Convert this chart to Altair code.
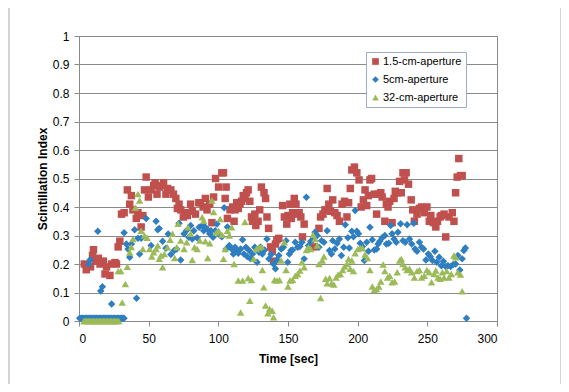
import altair as alt
import pandas as pd

names = ["1.5-cm-aperture", "5cm-aperture", "32-cm-aperture"]
colors = ["#C0504D", "#2F7EC0", "#9BBB59"]
shapes = ["square", "diamond", "triangle-up"]

t_15 = [3.8, 5.2, 8.3, 9.7, 10.4, 11.6, 13.9, 15.1, 17.5, 18.7, 19.8, 22.2, 23.4, 25.8, 26.9, 28.1, 29.3,
        30.5, 32.4, 34.7, 36.4, 37.6, 38.7, 41.1, 42.3, 44.6, 45.8, 47.0, 48.2, 49.8, 51.7, 53.6, 54.6,
        56.0, 57.6, 59.3, 60.7, 62.4, 63.5, 65.9, 67.8, 69.5, 70.6, 71.8, 73.0, 74.9, 76.5, 77.7, 80.1,
        81.3, 83.6, 86.0, 87.2, 89.1, 90.7, 91.9, 93.8, 95.4, 96.6, 98.0, 100.2, 102.5, 103.7, 105.6,
        104.9, 106.5, 108.4, 110.3, 111.3, 112.0, 113.2, 114.3, 115.5, 116.7, 117.9, 119.1, 120.2, 121.4,
        122.6, 123.8, 124.5, 126.2, 126.9, 128.5, 129.7, 130.9, 132.8, 133.9, 134.9, 136.1, 137.5, 138.7,
        139.6, 141.0, 142.0, 143.4, 146.2, 147.4, 149.1, 150.0, 151.4, 152.4, 153.3, 154.5, 155.7, 156.9,
        158.0, 159.2, 160.4, 161.6, 168.7, 172.2, 173.4, 175.1, 176.5, 178.1, 179.3, 180.5, 182.1, 183.6,
        185.2, 186.9, 188.8, 190.6, 192.3, 193.5, 194.7, 195.8, 197.7, 199.4, 201.0, 202.5, 204.1, 205.3,
        206.5, 207.7, 208.8, 210.0, 211.9, 213.6, 214.7, 216.6, 217.6, 219.5, 220.6, 221.8, 223.0, 224.7,
        226.1, 227.0, 228.4, 230.1, 231.3, 232.5, 233.6, 234.8, 236.5, 238.4, 239.5, 240.7, 242.6, 244.3,
        245.9, 247.8, 249.7, 251.4, 252.5, 254.4, 256.1, 257.3, 259.2, 260.1, 262.0, 263.2, 265.5, 267.9,
        269.1, 270.3, 271.4, 272.6, 273.8, 275.0]
v_15 = [0.20, 0.18, 0.19, 0.23, 0.25, 0.21, 0.22, 0.20, 0.21, 0.165, 0.19, 0.16, 0.20, 0.205, 0.20, 0.26, 0.28,
        0.375, 0.38, 0.46, 0.41, 0.44, 0.39, 0.36, 0.38, 0.33, 0.37, 0.46, 0.505, 0.435, 0.46, 0.475, 0.485,
        0.445, 0.47, 0.475, 0.485, 0.445, 0.465, 0.46, 0.445, 0.43, 0.395, 0.41, 0.39, 0.365, 0.38, 0.37, 0.41,
        0.385, 0.375, 0.415, 0.415, 0.40, 0.43, 0.39, 0.41, 0.345, 0.435, 0.50, 0.47, 0.52, 0.52, 0.47,
        0.43, 0.36, 0.39, 0.40, 0.35, 0.39, 0.415, 0.395, 0.41, 0.42, 0.44, 0.43, 0.45, 0.46,
        0.42, 0.365, 0.35, 0.375, 0.335, 0.35, 0.39, 0.47, 0.45, 0.43, 0.365, 0.325, 0.26, 0.245,
        0.21, 0.27, 0.285, 0.29, 0.405, 0.365, 0.34, 0.37, 0.41, 0.36, 0.38, 0.43, 0.41, 0.375,
        0.38, 0.365, 0.295, 0.34, 0.26, 0.325, 0.365, 0.375, 0.39, 0.465, 0.41, 0.385, 0.425, 0.38,
        0.37, 0.35, 0.41, 0.42, 0.365, 0.415, 0.465, 0.53, 0.54, 0.52, 0.495, 0.40, 0.425, 0.46,
        0.405, 0.44, 0.495, 0.50, 0.445, 0.375, 0.445, 0.45, 0.435, 0.35, 0.41, 0.40, 0.42, 0.345,
        0.43, 0.455, 0.45, 0.49, 0.45, 0.52, 0.495, 0.52, 0.48, 0.425, 0.39, 0.35, 0.375, 0.395,
        0.40, 0.38, 0.40, 0.35, 0.37, 0.345, 0.33, 0.35, 0.365, 0.37, 0.375, 0.295, 0.365, 0.38,
        0.35, 0.45, 0.505, 0.57, 0.51, 0.51]

t_5 = [0.5, 1.5, 2.5, 3.5, 4.5, 5.5, 6.5, 7.5, 8.5, 9.5, 10.5, 11.5, 12.5, 13.5, 14.5, 15.5, 16.5, 17.5,
       18.5, 19.5, 20.5, 21.5, 22.5, 23.5, 24.5, 25.5, 26.5, 27.5, 28.5, 29.5, 30.5, 31.5, 32.3,
       6.9, 8.0, 13.5, 15.6, 16.8, 23.4, 32.4, 34.0, 35.2, 36.4, 37.6, 39.9, 41.3, 42.3, 43.5, 44.6, 48.2,
       51.7, 55.3, 56.5, 57.6, 60.0, 62.4, 64.0, 65.9, 68.3, 70.2, 71.8, 73.0, 75.4, 77.3, 78.9, 80.1,
       81.3, 82.4, 84.8, 86.2, 88.4, 89.5, 90.7, 92.4, 93.8, 94.7, 96.2, 97.8, 99.0, 100.9, 102.5, 104.2,
       105.6, 106.5, 107.9, 109.6, 110.8, 112.0, 113.2, 114.3, 116.0, 117.4, 118.4, 119.8, 120.7, 122.1,
       123.1, 124.5, 126.2, 127.8, 129.2, 130.2, 131.6, 133.2, 134.9, 136.3, 137.9, 139.6, 141.0, 142.0,
       143.4, 145.1, 146.7, 148.6, 149.8, 151.0, 152.1, 153.3, 155.2, 156.9, 158.5, 160.0, 161.6, 163.2,
       164.7, 166.3, 168.0, 169.4, 171.0, 172.2, 174.1, 175.8, 178.1, 179.8, 181.2, 182.1, 183.6, 185.2,
       186.9, 188.3, 190.0, 191.1, 193.0, 194.0, 195.8, 197.0, 198.2, 199.4, 200.6, 201.8, 203.4, 204.8,
       206.5, 207.7, 208.8, 210.5, 211.9, 213.6, 214.7, 215.9, 217.6, 219.5, 220.6, 222.3, 223.7, 224.7,
       226.1, 227.7, 228.9, 230.8, 232.5, 234.1, 235.5, 237.2, 238.8, 240.3, 241.2, 242.6, 244.3, 245.9,
       247.3, 249.0, 250.7, 252.1, 253.7, 255.4, 256.8, 258.5, 260.1, 261.5, 263.2, 264.8, 266.7, 268.6,
       270.3, 271.9, 273.3, 275.0, 276.2, 277.3, 278.1]
v_5 = [0.01, 0.01, 0.01, 0.01, 0.01, 0.01, 0.01, 0.01, 0.01, 0.01, 0.01, 0.01, 0.01, 0.01, 0.01, 0.01, 0.01, 0.01,
       0.01, 0.01, 0.01, 0.01, 0.01, 0.01, 0.01, 0.01, 0.01, 0.01, 0.01, 0.01, 0.01, 0.01, 0.01,
       0.20, 0.215, 0.315, 0.105, 0.12, 0.06, 0.31, 0.27, 0.253, 0.224, 0.27, 0.32, 0.08, 0.29, 0.235, 0.29, 0.36,
       0.265, 0.35, 0.32, 0.325, 0.28, 0.255, 0.305, 0.233, 0.247, 0.253, 0.343, 0.214, 0.306, 0.318, 0.294, 0.335,
       0.288, 0.317, 0.292, 0.329, 0.335, 0.317, 0.329, 0.32, 0.306, 0.317, 0.294, 0.317, 0.34, 0.303, 0.296, 0.397,
       0.253, 0.33, 0.265, 0.253, 0.235, 0.259, 0.245, 0.238, 0.253, 0.285, 0.235, 0.259, 0.226, 0.247,
       0.218, 0.235, 0.259, 0.206, 0.241, 0.259, 0.235, 0.249, 0.288, 0.218, 0.233, 0.20, 0.183, 0.214,
       0.23, 0.253, 0.259, 0.282, 0.206, 0.235, 0.247, 0.249, 0.276, 0.259, 0.261, 0.276, 0.218, 0.434,
       0.265, 0.28, 0.285, 0.311, 0.30, 0.259, 0.282, 0.276, 0.317, 0.247, 0.235, 0.282, 0.253, 0.273,
       0.288, 0.23, 0.259, 0.338, 0.292, 0.256, 0.315, 0.296, 0.388, 0.315, 0.306, 0.273, 0.261, 0.212,
       0.276, 0.245, 0.329, 0.285, 0.249, 0.253, 0.27, 0.28, 0.292, 0.30, 0.27, 0.273, 0.335, 0.306,
       0.288, 0.276, 0.311, 0.341, 0.282, 0.276, 0.338, 0.288, 0.27, 0.343, 0.253, 0.245, 0.276, 0.259,
       0.253, 0.214, 0.235, 0.226, 0.212, 0.245, 0.206, 0.224, 0.194, 0.21, 0.191, 0.194, 0.191, 0.198,
       0.20, 0.23, 0.179, 0.218, 0.247, 0.256, 0.01]

t_32 = [3.5, 4.5, 5.5, 6.5, 7.5, 8.5, 9.5, 10.5, 11.5, 12.5, 13.5, 14.5, 15.5, 16.5, 17.5, 18.5, 19.5, 20.5,
        21.5, 22.5, 23.5, 24.5, 25.5, 26.5, 27.5, 28.5,
        28.1, 30.0, 31.0, 33.3, 34.7, 36.4, 37.6, 38.7, 40.4, 42.3, 43.5, 44.6, 45.8, 47.0, 48.9, 50.6,
        52.2, 53.6, 55.3, 56.5, 57.6, 58.8, 60.0, 61.2, 63.5, 65.4, 67.1, 68.7, 70.2, 71.1, 73.0, 75.4,
        77.3, 78.2, 80.1, 81.3, 82.9, 84.8, 86.7, 88.4, 89.5, 90.7, 92.4, 93.8, 95.4, 96.6, 98.5, 100.2,
        101.3, 102.5, 103.7, 104.9, 106.5, 107.9, 109.6, 111.3, 114.3, 116.0, 117.4, 119.1, 121.4, 122.6,
        123.8, 125.4, 127.3, 129.2, 130.9, 131.6, 132.6, 133.9, 135.6, 136.8, 138.7, 139.6, 140.3, 142.0,
        143.9, 145.1, 147.4, 148.6, 150.0, 151.4, 153.3, 155.2, 156.9, 158.5, 160.0, 161.6, 163.2, 164.7,
        166.3, 168.0, 169.4, 171.0, 172.2, 173.4, 174.6, 175.8, 177.0, 178.1, 179.8, 181.2, 182.9, 184.5,
        185.9, 187.6, 189.2, 190.6, 192.3, 193.5, 194.7, 195.8, 197.0, 198.2, 200.1, 201.8, 203.4, 205.3,
        207.0, 208.8, 210.5, 211.9, 213.6, 215.2, 216.6, 218.3, 219.5, 221.4, 223.0, 224.7, 226.5, 228.4,
        230.1, 231.3, 232.5, 234.1, 235.5, 237.2, 238.8, 240.7, 242.6, 244.3, 245.9, 247.8, 249.7, 251.4,
        253.0, 254.9, 256.1, 257.7, 259.2, 260.8, 262.0, 263.9, 265.5, 267.2, 269.1, 270.3, 271.9, 273.8,
        275.0]
v_32 = [0.0, 0.0, 0.0, 0.0, 0.0, 0.0, 0.0, 0.0, 0.0, 0.0, 0.0, 0.0, 0.0, 0.0, 0.0, 0.0, 0.0, 0.0,
        0.0, 0.0, 0.0, 0.0, 0.0, 0.0, 0.0, 0.0,
        0.175, 0.175, 0.065, 0.13, 0.19, 0.24, 0.26, 0.288, 0.397, 0.446, 0.423, 0.317, 0.253, 0.30, 0.292, 0.253,
        0.226, 0.241, 0.253, 0.265, 0.218, 0.23, 0.189, 0.235, 0.259, 0.285, 0.306, 0.221, 0.259, 0.341, 0.282, 0.253,
        0.276, 0.329, 0.306, 0.214, 0.259, 0.253, 0.282, 0.364, 0.352, 0.28, 0.221, 0.273, 0.423, 0.382, 0.311, 0.317,
        0.358, 0.303, 0.218, 0.253, 0.317, 0.30, 0.329, 0.20, 0.142, 0.03, 0.142, 0.347, 0.151, 0.071,
        0.144, 0.218, 0.253, 0.259, 0.261, 0.179, 0.118, 0.054, 0.027, 0.042, 0.036, 0.013, 0.144, 0.142,
        0.144, 0.212, 0.276, 0.179, 0.121, 0.142, 0.144, 0.159, 0.165, 0.177, 0.206, 0.189, 0.249, 0.259,
        0.253, 0.303, 0.288, 0.265, 0.20, 0.081, 0.212, 0.226, 0.148, 0.132, 0.151, 0.132, 0.128, 0.153,
        0.163, 0.165, 0.179, 0.191, 0.20, 0.218, 0.183, 0.212, 0.175, 0.238, 0.253, 0.256, 0.256, 0.233,
        0.221, 0.179, 0.121, 0.109, 0.112, 0.121, 0.139, 0.198, 0.175, 0.153, 0.159, 0.136, 0.139, 0.171,
        0.212, 0.218, 0.20, 0.189, 0.179, 0.183, 0.171, 0.153, 0.175, 0.179, 0.153, 0.159, 0.179, 0.171,
        0.136, 0.165, 0.177, 0.153, 0.148, 0.171, 0.153, 0.175, 0.153, 0.165, 0.23, 0.224, 0.171, 0.163,
        0.104]

x_ticks = [0, 50, 100, 150, 200, 250, 300]
y_ticks = [0, 0.1, 0.2, 0.3, 0.4, 0.5, 0.6, 0.7, 0.8, 0.9, 1]

rows = []
for i, (ts, vs) in enumerate([(t_15, v_15), (t_5, v_5), (t_32, v_32)]):
    for t, v in zip(ts, vs):
        rows.append({"t": t, "v": v, "series": names[i], "k": i})
df = pd.DataFrame(rows)

FONT = "Liberation Sans"
GRAY = "#8a8a8a"

frame = alt.Chart(pd.DataFrame({"a": [0]})).mark_rect(
    fillOpacity=0, stroke="#d4d4d4", strokeWidth=2
).encode(x=alt.value(-70), x2=alt.value(482), y=alt.value(-30), y2=alt.value(353))

points = alt.Chart(df).mark_point(filled=True, opacity=1, size=56, strokeWidth=0).encode(
    x=alt.X("t:Q", scale=alt.Scale(domain=[0, 300], nice=False, zero=False),
            axis=alt.Axis(values=x_ticks, title="Time [sec]", grid=False, format="d",
                          domainColor=GRAY, tickColor=GRAY, tickSize=5, labelPadding=7,
                          titlePadding=9)),
    y=alt.Y("v:Q", scale=alt.Scale(domain=[0, 1], nice=False),
            axis=alt.Axis(values=y_ticks, title="Scintillation Index", grid=True, format=".1~f",
                          gridColor=GRAY, domainColor=GRAY, tickColor=GRAY, tickSize=5,
                          labelPadding=5, titlePadding=3)),
    color=alt.Color("series:N", scale=alt.Scale(domain=names, range=colors),
                    legend=alt.Legend(title=None, orient="none", legendX=287, legendY=16,
                                      fillColor="white", strokeColor="#9aaecb", padding=4,
                                      labelFont=FONT, labelFontSize=11, labelColor="#000",
                                      symbolSize=45, rowPadding=6, labelOffset=2)),
    shape=alt.Shape("series:N", scale=alt.Scale(domain=names, range=shapes)),
    order=alt.Order("k:Q"),
)

chart = alt.layer(frame, points).properties(
    width=418, height=285,
    autosize=alt.AutoSizeParams(type="none"),
    padding={"left": 71, "top": 28, "right": 64, "bottom": 63},
).configure_view(stroke=GRAY, strokeWidth=1).configure_axis(
    labelFont=FONT, labelFontSize=12, labelColor="#000",
    titleFont=FONT, titleFontSize=12, titleFontWeight="bold", titleColor="#000",
)

chart.save("out.html", embed_options={"renderer": "svg", "actions": False})
